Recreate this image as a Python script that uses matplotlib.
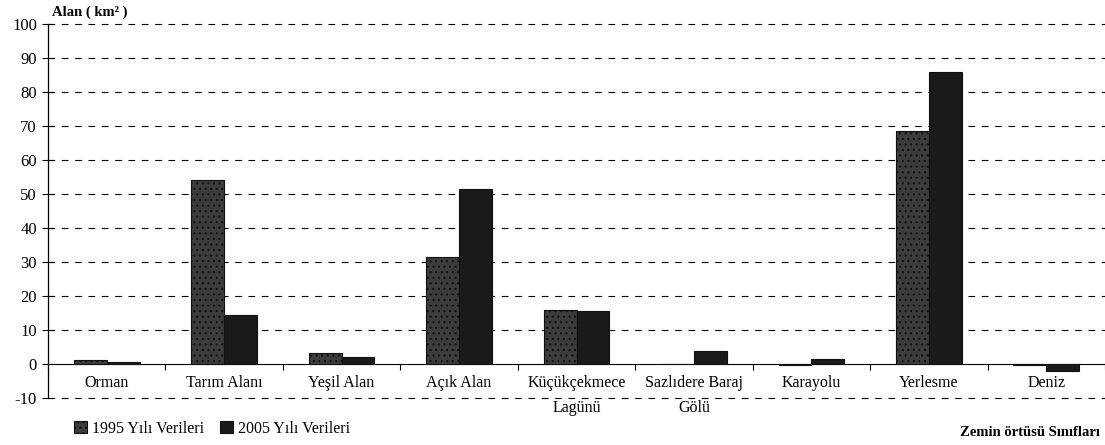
import numpy as np
import matplotlib.pyplot as plt

plt.rcParams['font.family'] = ['Liberation Serif', 'DejaVu Serif']
plt.rcParams['hatch.color'] = '#a8a8a8'
plt.rcParams['hatch.linewidth'] = 0.8

categories = ["Orman", "Tarım Alanı", "Yeşil Alan", "Açık Alan", "Küçükçekmece\nLagünü",
              "Sazlıdere Baraj\nGölü", "Karayolu", "Yerlesme", "Deniz"]
v1995 = [1.2, 54, 3.2, 31.5, 16, 0, -0.4, 68.5, -0.3]
v2005 = [0.5, 14.5, 2.2, 51.5, 15.5, 3.8, 1.5, 86, -2.2]
yticks = list(range(-10, 101, 10))

fig = plt.figure(figsize=(11.05, 4.45), dpi=100)
ax = fig.add_axes([48/1105, 47/445, 1057/1105, 374/445])

x = np.arange(len(categories))
w = 0.28
ax.bar(x - w/2, v1995, w, color='#3c3c3c', edgecolor='#111111', linewidth=0.8,
       hatch='...', label='1995 Yılı Verileri', zorder=3)
ax.bar(x + w/2, v2005, w, color='#1a1a1a', edgecolor='#111111', linewidth=0.8,
       label='2005 Yılı Verileri', zorder=3)

ax.set_xlim(-0.5, len(categories) - 0.5)
ax.set_ylim(-10, 100)
ax.set_yticks(yticks)
ax.set_yticklabels([str(t) for t in yticks], fontsize=12)
ax.tick_params(axis='y', direction='inout', length=8, width=0.8, pad=4)

ax.spines['top'].set_visible(False)
ax.spines['right'].set_visible(False)
ax.spines['bottom'].set_position(('data', 0))
ax.spines['bottom'].set_linewidth(0.8)
ax.spines['left'].set_linewidth(0.9)

ax.set_xticks(x)
ax.set_xticklabels(categories, fontsize=11.5, linespacing=1.75, va='top')
ax.tick_params(axis='x', length=0, pad=8)
ax.set_xticks(np.arange(len(categories) + 1) - 0.5, minor=True)
ax.tick_params(axis='x', which='minor', direction='out', length=4, width=0.8)

for t in yticks:
    if t != 0:
        ax.axhline(t, color='black', linestyle=(0, (6, 6)), linewidth=0.8, zorder=1,
                   clip_on=False)

fig.text(52/1105, 1 - 12/445, "Alan ( km² )", fontsize=10.5, fontweight='bold', va='center')
fig.text(1100/1105, 1 - 433/445, "Zemin örtüsü Sınıfları", fontsize=10.5, fontweight='bold',
         ha='right', va='center')

leg = fig.legend(loc='lower left', bbox_to_anchor=(60/1105, -6/445), ncol=2, frameon=False,
                 fontsize=11.5, handlelength=0.8, handleheight=0.8, handletextpad=0.3,
                 columnspacing=1.0)

fig.savefig('out.png', dpi=100)
